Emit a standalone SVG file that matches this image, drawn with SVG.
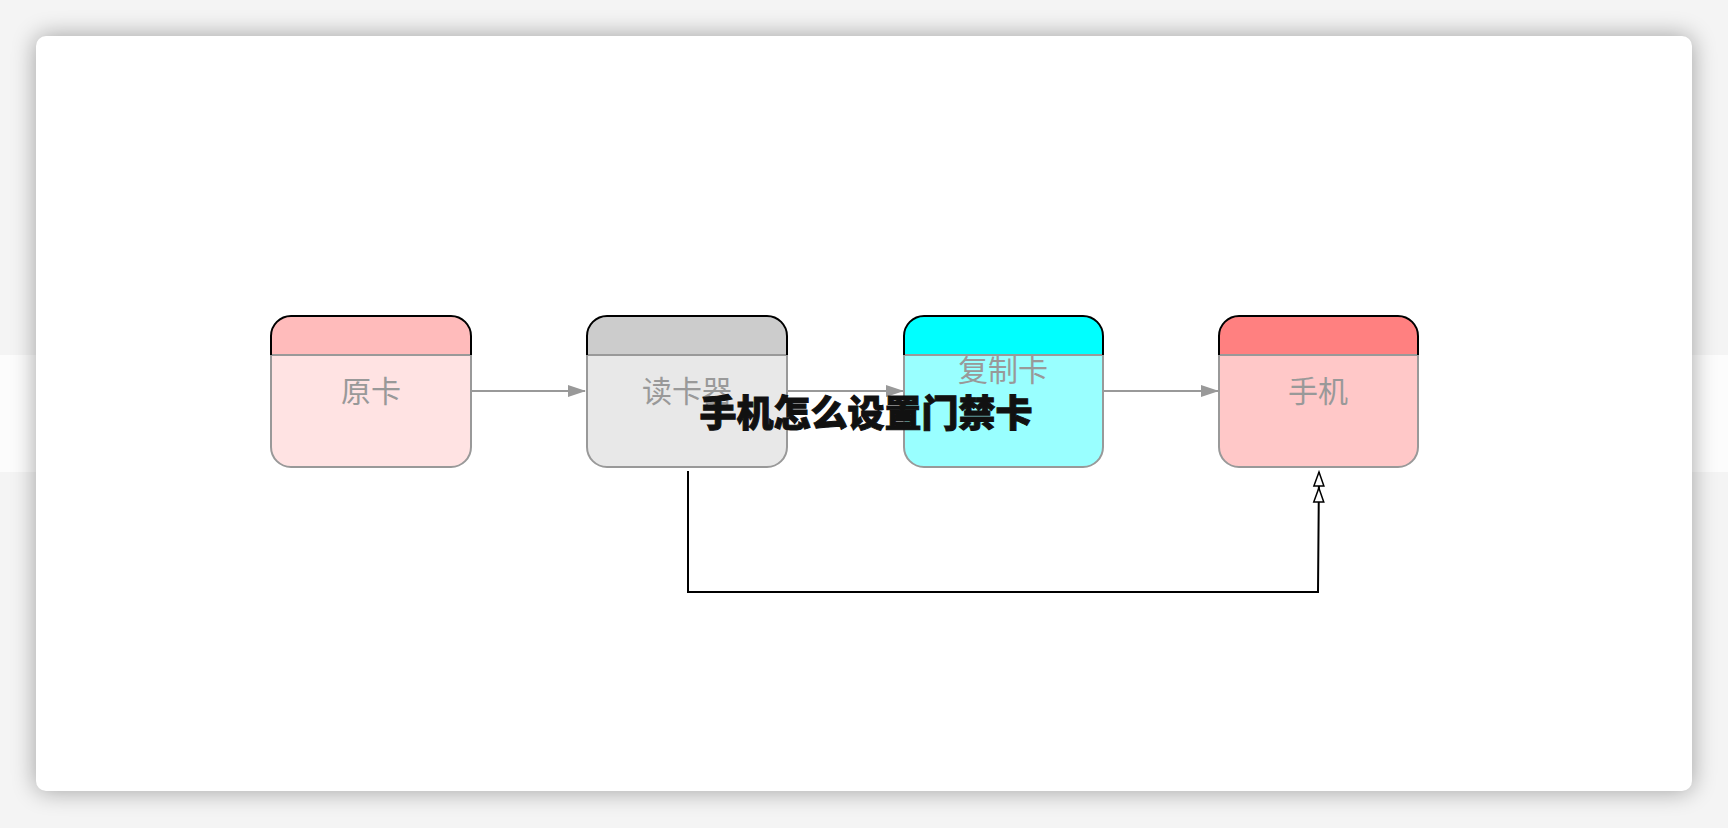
<svg xmlns="http://www.w3.org/2000/svg" width="1728" height="828" viewBox="0 0 1728 828">
<defs>
<filter id="sh" x="-10%" y="-10%" width="120%" height="120%"><feGaussianBlur stdDeviation="12"/></filter>
<marker id="ga" markerWidth="18" markerHeight="12" refX="17" refY="6" orient="auto" markerUnits="userSpaceOnUse"><path d="M0,0 L18,6 L0,12 z" fill="#999"/></marker>
<marker id="ho" markerWidth="34" markerHeight="14" refX="32" refY="7" orient="auto" markerUnits="userSpaceOnUse" viewBox="0 0 34 14"><path d="M32,7 L18,2 L18,12 z M16,7 L2,2 L2,12 z" fill="#fff" stroke="#000" stroke-width="1.5"/></marker>
<style>
.lbl{font-family:"Noto Sans CJK SC","Noto Sans",sans-serif;font-size:30px;fill:#999;text-anchor:middle}
.body{stroke:#999;stroke-width:2}
.hd{stroke:#000;stroke-width:2;fill:none}
</style>
</defs>
<rect width="1728" height="828" fill="#f4f4f4"/>
<rect x="0" y="355" width="1728" height="117" fill="#fcfcfc"/>
<rect x="36" y="36" width="1656" height="755" rx="10" fill="#000" opacity="0.35" filter="url(#sh)"/>
<rect x="36" y="36" width="1656" height="755" rx="10" fill="#fff"/>
<g id="connectors" fill="none">
<line x1="471" y1="391" x2="585" y2="391" stroke="#999" stroke-width="2" marker-end="url(#ga)"/>
<line x1="787" y1="391" x2="903" y2="391" stroke="#999" stroke-width="2" marker-end="url(#ga)"/>
<line x1="1103" y1="391" x2="1218" y2="391" stroke="#999" stroke-width="2" marker-end="url(#ga)"/>
<path d="M688,471 L688,592 L1318,592 L1319,472" stroke="#000" stroke-width="2" marker-end="url(#ho)"/>
</g>
<g id="n1">
<path d="M271,355 V336 a20,20 0 0 1 20,-20 H451 a20,20 0 0 1 20,20 V355 Z" fill="#ffbbbb"/>
<path d="M271,355 V447 a20,20 0 0 0 20,20 H451 a20,20 0 0 0 20,-20 V355 Z" fill="#ffe3e3" class="body"/>
<path d="M271,355 V336 a20,20 0 0 1 20,-20 H451 a20,20 0 0 1 20,20 V355" class="hd"/>
<text x="371" y="402" class="lbl">原卡</text>
</g>
<g id="n2">
<path d="M587,355 V336 a20,20 0 0 1 20,-20 H767 a20,20 0 0 1 20,20 V355 Z" fill="#cccccc"/>
<path d="M587,355 V447 a20,20 0 0 0 20,20 H767 a20,20 0 0 0 20,-20 V355 Z" fill="#e8e8e8" class="body"/>
<path d="M587,355 V336 a20,20 0 0 1 20,-20 H767 a20,20 0 0 1 20,20 V355" class="hd"/>
<text x="687" y="402" class="lbl">读卡器</text>
</g>
<g id="n3">
<path d="M904,355 V336 a20,20 0 0 1 20,-20 H1083 a20,20 0 0 1 20,20 V355 Z" fill="#00ffff"/>
<path d="M904,355 V447 a20,20 0 0 0 20,20 H1083 a20,20 0 0 0 20,-20 V355 Z" fill="#99ffff" class="body"/>
<path d="M904,355 V336 a20,20 0 0 1 20,-20 H1083 a20,20 0 0 1 20,20 V355" class="hd"/>
<text x="1003" y="381" class="lbl">复制卡</text>
</g>
<g id="n4">
<path d="M1219,355 V336 a20,20 0 0 1 20,-20 H1398 a20,20 0 0 1 20,20 V355 Z" fill="#ff8080"/>
<path d="M1219,355 V447 a20,20 0 0 0 20,20 H1398 a20,20 0 0 0 20,-20 V355 Z" fill="#ffc8c8" class="body"/>
<path d="M1219,355 V336 a20,20 0 0 1 20,-20 H1398 a20,20 0 0 1 20,20 V355" class="hd"/>
<text x="1318" y="402" class="lbl">手机</text>
</g>
<text x="866" y="427" text-anchor="middle" font-family="Noto Sans CJK SC, sans-serif" font-size="37" font-weight="900" fill="#111" stroke="#111" stroke-width="1">手机怎么设置门禁卡</text>
</svg>
